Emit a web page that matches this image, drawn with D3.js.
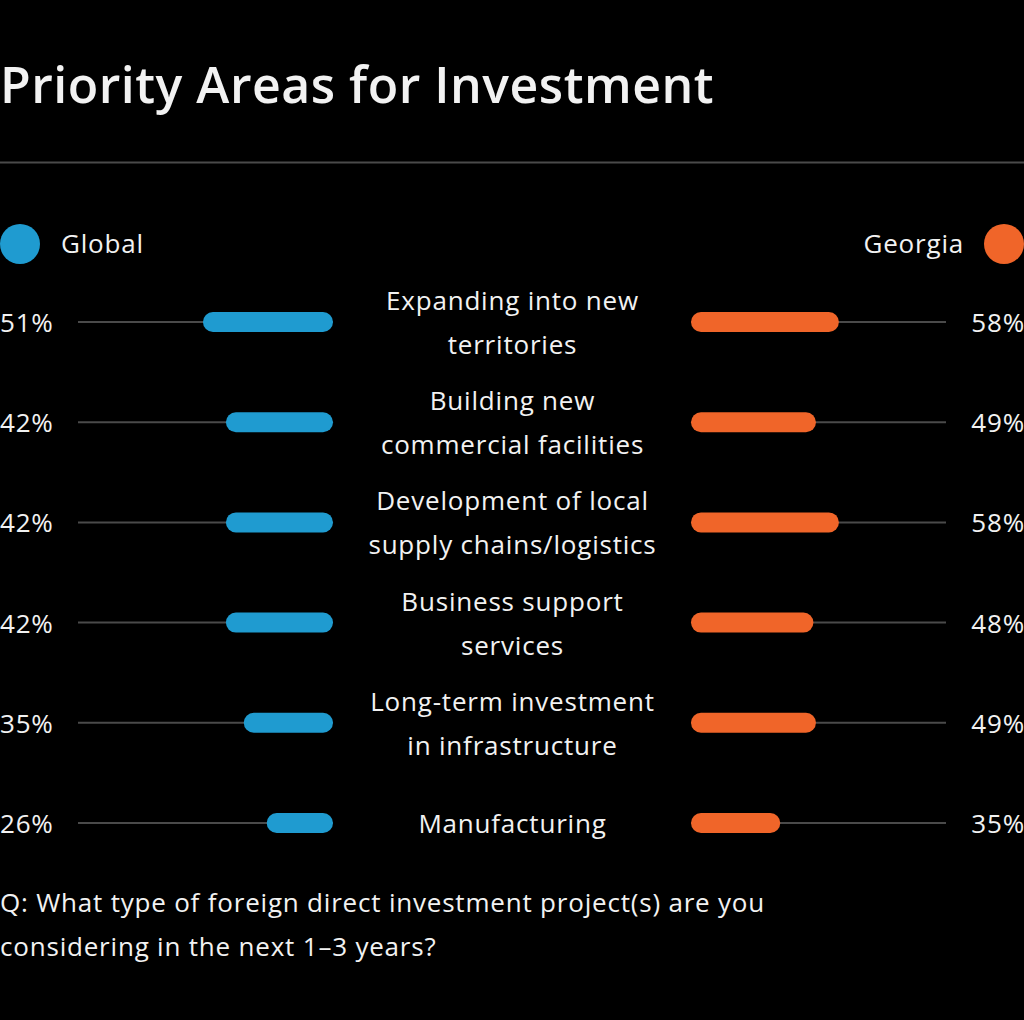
<!DOCTYPE html>
<html>
<head>
<meta charset="utf-8">
<script src="https://cdn.jsdelivr.net/npm/d3@7"></script>
<style>
  html, body { margin: 0; padding: 0; background: #000; }
  svg { display: block; }
  text { font-family: "Open Sans", Lato, sans-serif; fill: #f2f2f2; }
  .body { font-size: 26px; letter-spacing: 0.8px; }
</style>
</head>
<body>
<svg id="chart" width="1024" height="1020"></svg>
<script>
// data
const categories = [
    ['Expanding into new', 'territories'],
    ['Building new', 'commercial facilities'],
    ['Development of local', 'supply chains/logistics'],
    ['Business support', 'services'],
    ['Long-term investment', 'in infrastructure'],
    ['Manufacturing']
]
const globalValues = [51, 42, 42, 42, 35, 26]
const georgiaValues = [58, 49, 58, 48, 49, 35]
const seriesNames = ['Global', 'Georgia']
const question = [
    'Q: What type of foreign direct investment project(s) are you',
    'considering in the next 1\u20133 years?'
]

const blue = '#1f9bd0'
const orange = '#f06529'
const grey = '#4a4a4a'

const svg = d3.select('#chart')

svg.append('rect')
    .attr('width', 1024)
    .attr('height', 1020)
    .attr('fill', '#000')

// title + rule
svg.append('text')
    .attr('x', 0)
    .attr('y', 103)
    .style('font-size', '50px')
    .style('font-weight', 600)
    .style('letter-spacing', '0.5px')
    .text('Priority Areas for Investment')

svg.append('line')
    .attr('x1', 0).attr('x2', 1024)
    .attr('y1', 162.5).attr('y2', 162.5)
    .attr('stroke', grey)
    .attr('stroke-width', 2)

// legend
svg.append('circle').attr('cx', 20).attr('cy', 244).attr('r', 20).attr('fill', blue)
svg.append('text').attr('class', 'body').attr('x', 61).attr('y', 253)
    .text(seriesNames[0])
svg.append('circle').attr('cx', 1004).attr('cy', 244).attr('r', 20).attr('fill', orange)
svg.append('text').attr('class', 'body').attr('x', 964).attr('y', 253)
    .attr('text-anchor', 'end')
    .text(seriesNames[1])

// scales
const y = d3.scalePoint()
    .domain(d3.range(categories.length))
    .range([322, 823])
const xL = d3.scaleLinear().domain([0, 100]).range([333, 78])
const xR = d3.scaleLinear().domain([0, 100]).range([691, 946])

const rows = svg.selectAll('g.row')
    .data(categories.map((c, i) => ({label: c, g: globalValues[i], ge: georgiaValues[i], i: i})))
    .join('g')
    .attr('class', 'row')
    .attr('transform', d => 'translate(0,' + y(d.i) + ')')

// track lines
rows.append('line')
    .attr('x1', xL(100)).attr('x2', xL(0))
    .attr('y1', 0).attr('y2', 0)
    .attr('stroke', grey).attr('stroke-width', 2)
rows.append('line')
    .attr('x1', xR(0)).attr('x2', xR(100))
    .attr('y1', 0).attr('y2', 0)
    .attr('stroke', grey).attr('stroke-width', 2)

// bars
rows.append('rect')
    .attr('x', d => xL(d.g))
    .attr('width', d => xL(0) - xL(d.g))
    .attr('y', -10).attr('height', 20)
    .attr('rx', 10)
    .attr('fill', blue)
rows.append('rect')
    .attr('x', xR(0))
    .attr('width', d => xR(d.ge) - xR(0))
    .attr('y', -10).attr('height', 20)
    .attr('rx', 10)
    .attr('fill', orange)

// value labels
rows.append('text')
    .attr('class', 'body')
    .attr('x', 0).attr('y', 10)
    .text(d => d.g + '%')
rows.append('text')
    .attr('class', 'body')
    .attr('x', 1025).attr('y', 10)
    .attr('text-anchor', 'end')
    .text(d => d.ge + '%')

// category labels
rows.append('text')
    .attr('class', 'body')
    .attr('text-anchor', 'middle')
    .each(function (d) {
        const t = d3.select(this)
        const n = d.label.length
        d.label.forEach((line, k) => {
            t.append('tspan')
                .attr('x', 512.5)
                .attr('y', 10 + (k - (n - 1) / 2) * 44)
                .text(line)
        })
    })

// question footnote
svg.selectAll('text.q')
    .data(question)
    .join('text')
    .attr('class', 'q body')
    .attr('x', 0)
    .attr('y', (d, i) => 912 + i * 44)
    .text(d => d)
</script>
</body>
</html>
